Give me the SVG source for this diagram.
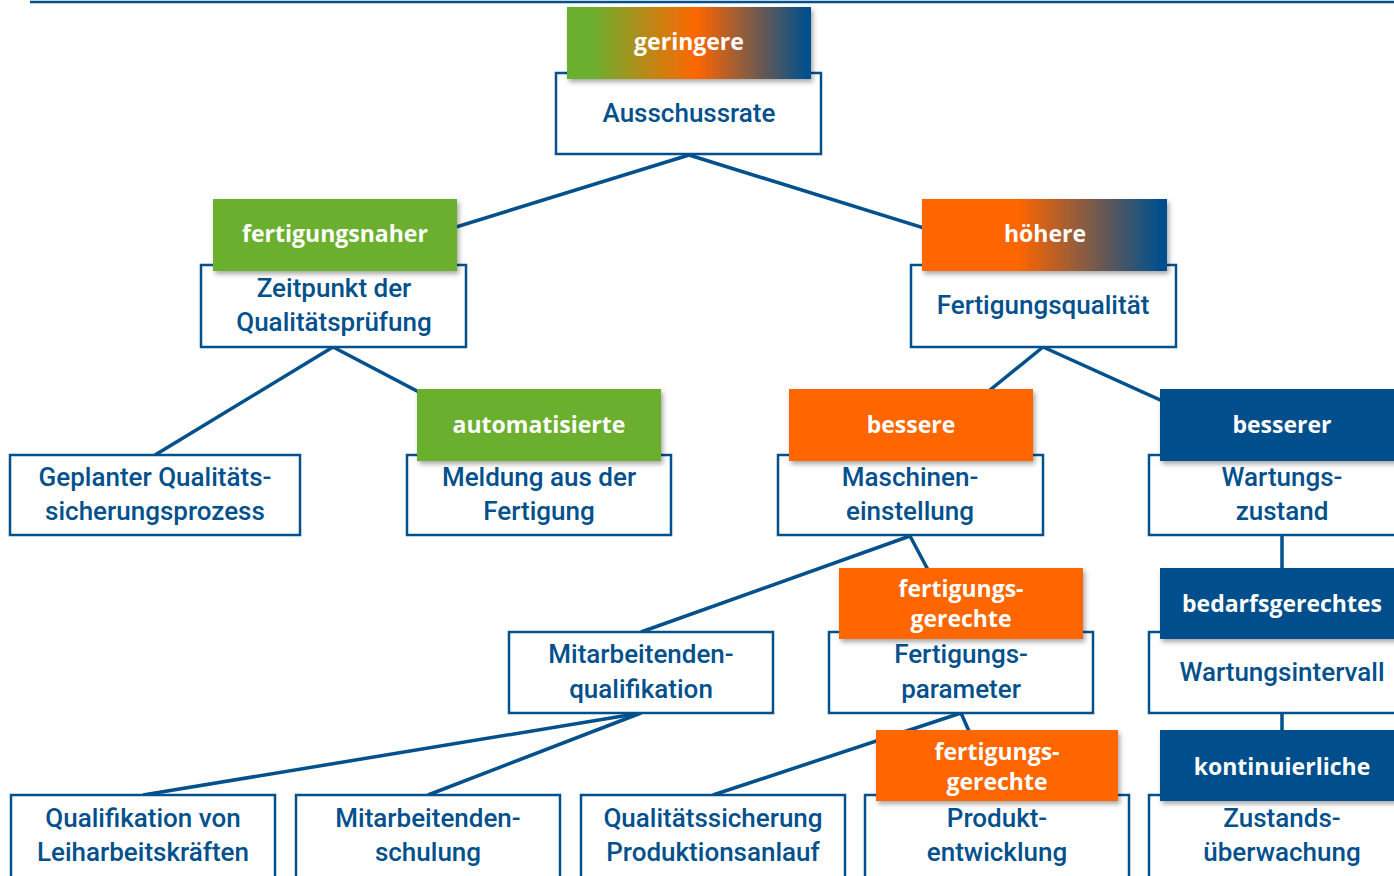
<svg xmlns="http://www.w3.org/2000/svg" width="1394" height="876" viewBox="0 0 1394 876">
<style>
.box{fill:#fff;stroke:#02508c;stroke-width:2.5}
.bt{font-family:Roboto,"Liberation Sans",sans-serif;font-size:26px;font-weight:500;fill:#02508c;text-anchor:middle}
.tt{font-family:"Open Sans","Liberation Sans",sans-serif;font-size:23px;font-weight:700;fill:#fff;text-anchor:middle}
.g{fill:#6ab02f}.o{fill:#ff6600}.b{fill:#02508c}
.con line{stroke:#02508c;stroke-width:3.5}
</style>
<defs>
<linearGradient id="gr1" x1="0" y1="0" x2="1" y2="0">
<stop offset="0" stop-color="#6ab02f"/><stop offset="0.1" stop-color="#6ab02f"/><stop offset="0.53" stop-color="#ff6600"/><stop offset="0.98" stop-color="#02508c"/><stop offset="1" stop-color="#02508c"/>
</linearGradient>
<linearGradient id="gr2" x1="0" y1="0" x2="1" y2="0">
<stop offset="0" stop-color="#ff6600"/><stop offset="0.39" stop-color="#ff6600"/><stop offset="0.97" stop-color="#02508c"/><stop offset="1" stop-color="#02508c"/>
</linearGradient>
<filter id="sh" x="-10%" y="-10%" width="125%" height="140%">
<feDropShadow dx="2" dy="3" stdDeviation="2.5" flood-color="#000" flood-opacity="0.35"/>
</filter>
</defs>
<line x1="30" y1="2" x2="1394" y2="2" stroke="#02508c" stroke-width="2.5"/>
<g class="con" id="connectors">
<line x1="689" y1="155" x2="333" y2="265"/>
<line x1="689" y1="155" x2="1043" y2="265"/>
<line x1="333" y1="347" x2="155" y2="455"/>
<line x1="333" y1="347" x2="539" y2="455"/>
<line x1="1043" y1="347" x2="910" y2="455"/>
<line x1="1043" y1="347" x2="1282" y2="455"/>
<line x1="910" y1="536" x2="641" y2="632"/>
<line x1="910" y1="536" x2="961" y2="632"/>
<line x1="1282" y1="536" x2="1282" y2="632"/>
<line x1="641" y1="713" x2="143" y2="795"/>
<line x1="641" y1="713" x2="428" y2="795"/>
<line x1="961" y1="713" x2="713" y2="795"/>
<line x1="961" y1="713" x2="997" y2="795"/>
<line x1="1282" y1="713" x2="1282" y2="795"/>
</g>
<g id="n-ausschussrate">
<rect class="box" x="556" y="73" width="265" height="81"/>
<text class="bt" x="689" y="122">Ausschussrate</text>
<rect x="567" y="7" width="244" height="72" fill="url(#gr1)" filter="url(#sh)"/>
<text class="tt" x="689" y="50">geringere</text>
</g>
<g id="n-zeitpunkt">
<rect class="box" x="201" y="265" width="265" height="82"/>
<text class="bt" x="334" y="297">Zeitpunkt der</text>
<text class="bt" x="334" y="331">Qualitätsprüfung</text>
<rect class="g" x="213" y="199" width="244" height="72" filter="url(#sh)"/>
<text class="tt" x="335" y="242">fertigungsnaher</text>
</g>
<g id="n-fertigungsqualitaet">
<rect class="box" x="911" y="265" width="265" height="82"/>
<text class="bt" x="1043" y="314">Fertigungsqualität</text>
<rect x="922" y="199" width="245" height="72" fill="url(#gr2)" filter="url(#sh)"/>
<text class="tt" x="1045" y="242">höhere</text>
</g>
<g id="n-geplanter">
<rect class="box" x="10" y="455" width="290" height="80"/>
<text class="bt" x="155" y="486">Geplanter Qualitäts-</text>
<text class="bt" x="155" y="520">sicherungsprozess</text>
</g>
<g id="n-meldung">
<rect class="box" x="407" y="455" width="264" height="80"/>
<text class="bt" x="539" y="486">Meldung aus der</text>
<text class="bt" x="539" y="520">Fertigung</text>
<rect class="g" x="417" y="389" width="244" height="72" filter="url(#sh)"/>
<text class="tt" x="539" y="433">automatisierte</text>
</g>
<g id="n-maschinen">
<rect class="box" x="778" y="455" width="265" height="80"/>
<text class="bt" x="910" y="486">Maschinen-</text>
<text class="bt" x="910" y="520">einstellung</text>
<rect class="o" x="789" y="389" width="244" height="72" filter="url(#sh)"/>
<text class="tt" x="911" y="433">bessere</text>
</g>
<g id="n-wartungszustand">
<rect class="box" x="1149" y="455" width="265" height="80"/>
<text class="bt" x="1282" y="486">Wartungs-</text>
<text class="bt" x="1282" y="520">zustand</text>
<rect class="b" x="1160" y="389" width="244" height="72" filter="url(#sh)"/>
<text class="tt" x="1282" y="433">besserer</text>
</g>
<g id="n-mitarbeitendenqualifikation">
<rect class="box" x="509" y="632" width="264" height="81"/>
<text class="bt" x="641" y="663">Mitarbeitenden-</text>
<text class="bt" x="641" y="698">qualifikation</text>
</g>
<g id="n-fertigungsparameter">
<rect class="box" x="829" y="632" width="264" height="81"/>
<text class="bt" x="961" y="663">Fertigungs-</text>
<text class="bt" x="961" y="698">parameter</text>
<rect class="o" x="839" y="568" width="244" height="71" filter="url(#sh)"/>
<text class="tt" x="961" y="597">fertigungs-</text>
<text class="tt" x="961" y="627">gerechte</text>
</g>
<g id="n-wartungsintervall">
<rect class="box" x="1149" y="632" width="265" height="81"/>
<text class="bt" x="1282" y="681">Wartungsintervall</text>
<rect class="b" x="1160" y="568" width="244" height="71" filter="url(#sh)"/>
<text class="tt" x="1282" y="612">bedarfsgerechtes</text>
</g>
<g id="n-qualifikation">
<rect class="box" x="11" y="795" width="264" height="90"/>
<text class="bt" x="143" y="827">Qualifikation von</text>
<text class="bt" x="143" y="861">Leiharbeitskräften</text>
</g>
<g id="n-schulung">
<rect class="box" x="296" y="795" width="264" height="90"/>
<text class="bt" x="428" y="827">Mitarbeitenden-</text>
<text class="bt" x="428" y="861">schulung</text>
</g>
<g id="n-qualitaetssicherung">
<rect class="box" x="581" y="795" width="264" height="90"/>
<text class="bt" x="713" y="827">Qualitätssicherung</text>
<text class="bt" x="713" y="861">Produktionsanlauf</text>
</g>
<g id="n-produktentwicklung">
<rect class="box" x="865" y="795" width="264" height="90"/>
<text class="bt" x="997" y="827">Produkt-</text>
<text class="bt" x="997" y="861">entwicklung</text>
<rect class="o" x="876" y="730" width="242" height="71" filter="url(#sh)"/>
<text class="tt" x="997" y="760">fertigungs-</text>
<text class="tt" x="997" y="790">gerechte</text>
</g>
<g id="n-zustandsueberwachung">
<rect class="box" x="1149" y="795" width="265" height="90"/>
<text class="bt" x="1282" y="827">Zustands-</text>
<text class="bt" x="1282" y="861">überwachung</text>
<rect class="b" x="1160" y="730" width="244" height="71" filter="url(#sh)"/>
<text class="tt" x="1282" y="775">kontinuierliche</text>
</g>
</svg>
